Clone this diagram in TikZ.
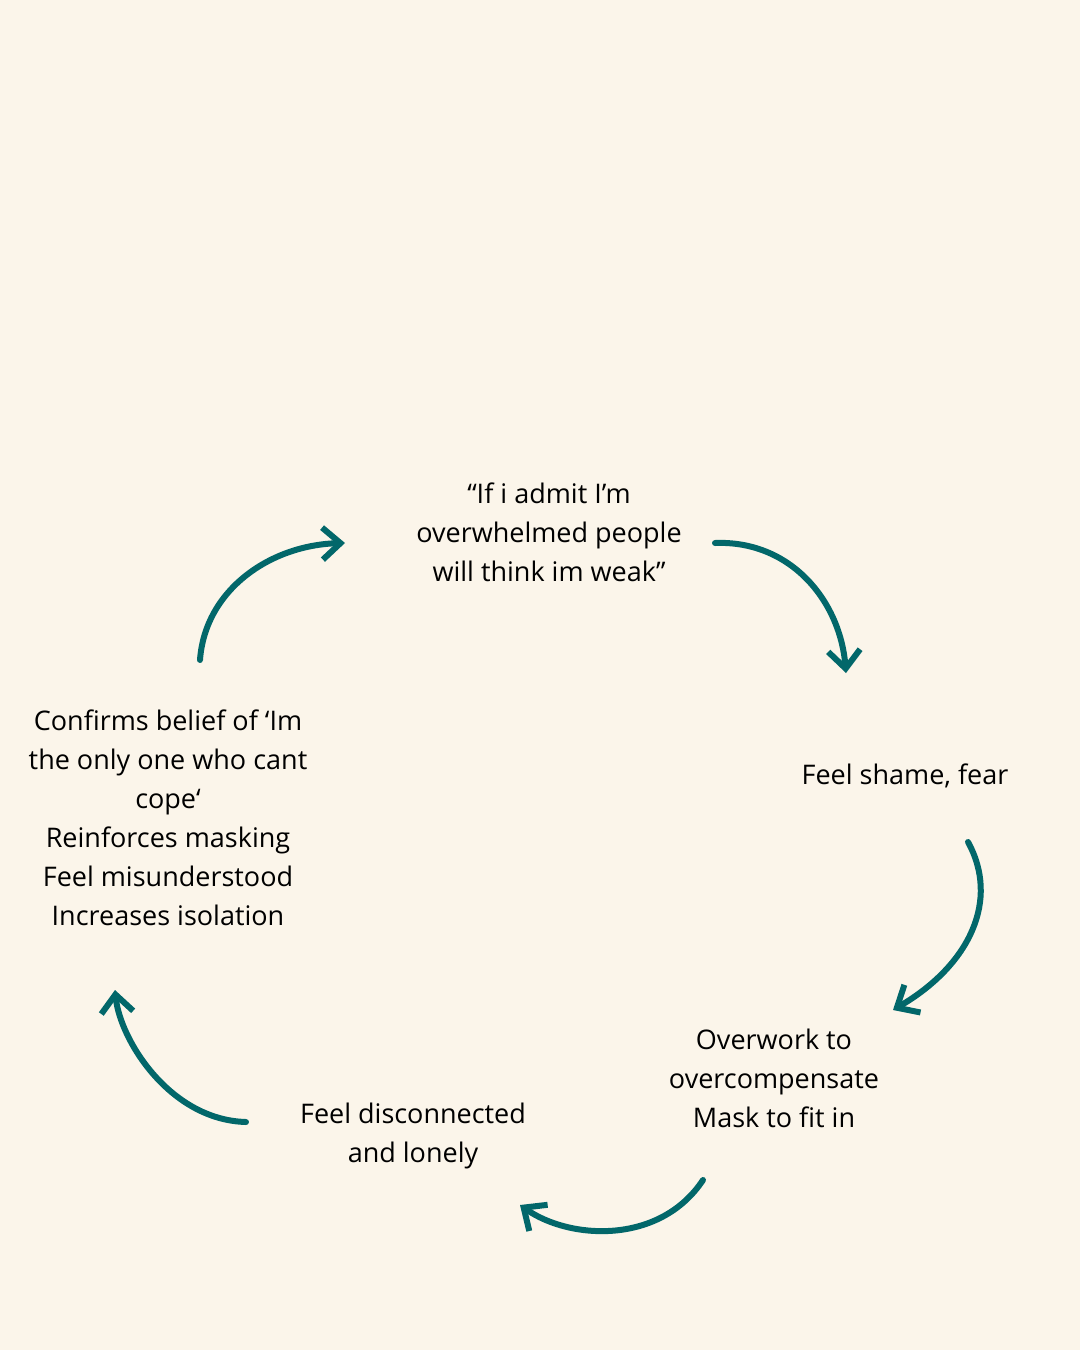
\documentclass[tikz,border=0pt]{standalone}
\usepackage{fontspec}
\setmainfont{Open Sans}
\usetikzlibrary{arrows.meta}
\definecolor{bg}{HTML}{FBF5EA}
\definecolor{teal}{HTML}{02676A}
\begin{document}
\begin{tikzpicture}[x=0.5pt,y=-0.5pt,
  lbl/.style={align=center,font=\fontsize{13.5pt}{19.5pt}\selectfont,text=black,inner sep=0pt},
  arr/.style={draw=teal,line width=3pt,line cap=round,-{Straight Barb[length=9pt,width=16pt,line width=3pt]}}]
\fill[bg] (0,0) rectangle (1080,1350);
\useasboundingbox (0,0) rectangle (1080,1350);
\node[lbl] (t) at (549,532) {“If i admit I’m\\overwhelmed people\\will think im weak”};
\node[lbl] (r) at (905,776) {Feel shame, fear};
\node[lbl] (b) at (774,1078) {Overwork to\\overcompensate\\Mask to fit in};
\node[lbl] (bl) at (413,1136) {Feel disconnected\\and lonely};
\node[lbl] (l) at (168,818) {Confirms belief of ‘Im\\the only one who cant\\cope‘\\Reinforces masking\\Feel misunderstood\\Increases isolation};
\coordinate (a1s) at (715,543); \coordinate (a1e) at (846,673);
\coordinate (a2s) at (968,842); \coordinate (a2e) at (893,1010);
\coordinate (a3s) at (703,1180); \coordinate (a3e) at (520,1205);
\coordinate (a4s) at (246,1122); \coordinate (a4e) at (115,990);
\coordinate (a5s) at (200,660); \coordinate (a5e) at (345,543);
\draw[arr] (a1s) .. controls (790,540) and (840,600) .. (a1e);
\draw[arr] (a2s) .. controls (1000,900) and (970,965) .. (a2e);
\draw[arr] (a3s) .. controls (660,1245) and (570,1240) .. (a3e);
\draw[arr] (a4s) .. controls (170,1120) and (120,1040) .. (a4e);
\draw[arr] (a5s) .. controls (205,590) and (270,545) .. (a5e);
\end{tikzpicture}
\end{document}
